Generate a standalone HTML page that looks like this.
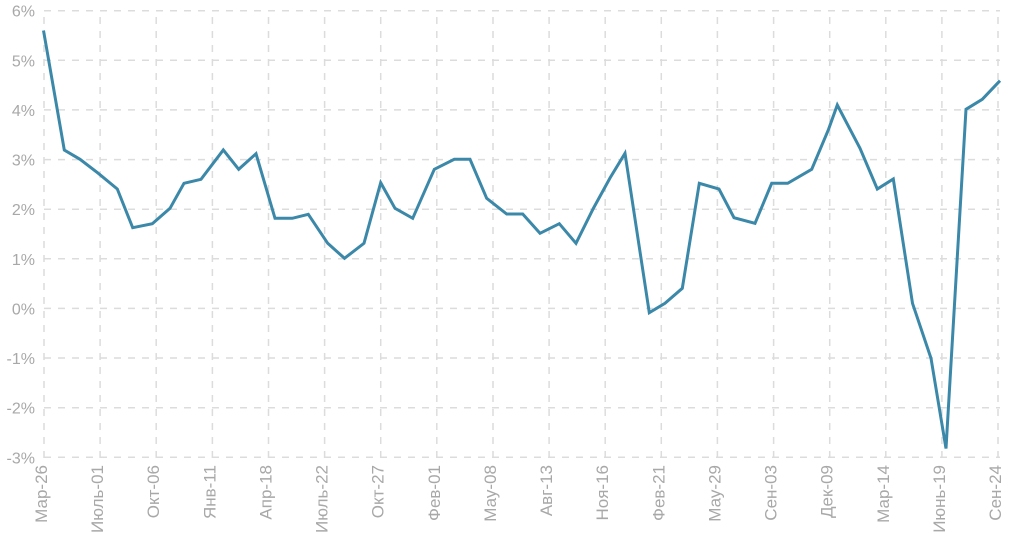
<!DOCTYPE html>
<html>
<head>
<meta charset="utf-8">
<style>
  html, body { margin: 0; padding: 0; background: #ffffff; }
  body { width: 1024px; height: 552px; overflow: hidden; }
  svg { display: block; }
  text { font-family: "Liberation Sans", "DejaVu Sans", sans-serif; fill: #a8a8a8; }
</style>
</head>
<body>
<svg width="1024" height="552" viewBox="0 0 1024 552" xmlns="http://www.w3.org/2000/svg">
  <g stroke="#dcdcdc" stroke-width="1.5" stroke-dasharray="7 7" fill="none">
    <line x1="44" y1="10.7" x2="1000" y2="10.7"/>
    <line x1="44" y1="60.3" x2="1000" y2="60.3"/>
    <line x1="44" y1="109.9" x2="1000" y2="109.9"/>
    <line x1="44" y1="159.6" x2="1000" y2="159.6"/>
    <line x1="44" y1="209.2" x2="1000" y2="209.2"/>
    <line x1="44" y1="258.8" x2="1000" y2="258.8"/>
    <line x1="44" y1="308.4" x2="1000" y2="308.4"/>
    <line x1="44" y1="358.0" x2="1000" y2="358.0"/>
    <line x1="44" y1="407.7" x2="1000" y2="407.7"/>
    <line x1="44" y1="457.3" x2="1000" y2="457.3"/>
  </g>
  <g stroke="#dcdcdc" stroke-width="1.5" stroke-dasharray="7 7" fill="none">
    <line x1="44" y1="458" x2="44" y2="10"/>
    <line x1="100.1" y1="458" x2="100.1" y2="10"/>
    <line x1="156.2" y1="458" x2="156.2" y2="10"/>
    <line x1="212.4" y1="458" x2="212.4" y2="10"/>
    <line x1="268.5" y1="458" x2="268.5" y2="10"/>
    <line x1="324.6" y1="458" x2="324.6" y2="10"/>
    <line x1="380.7" y1="458" x2="380.7" y2="10"/>
    <line x1="436.8" y1="458" x2="436.8" y2="10"/>
    <line x1="493.0" y1="458" x2="493.0" y2="10"/>
    <line x1="549.1" y1="458" x2="549.1" y2="10"/>
    <line x1="605.2" y1="458" x2="605.2" y2="10"/>
    <line x1="661.3" y1="458" x2="661.3" y2="10"/>
    <line x1="717.4" y1="458" x2="717.4" y2="10"/>
    <line x1="773.6" y1="458" x2="773.6" y2="10"/>
    <line x1="829.7" y1="458" x2="829.7" y2="10"/>
    <line x1="885.8" y1="458" x2="885.8" y2="10"/>
    <line x1="941.9" y1="458" x2="941.9" y2="10"/>
    <line x1="998.0" y1="458" x2="998.0" y2="10"/>
  </g>

  <g font-size="16" text-anchor="end">
    <text x="35" y="16.7">6%</text>
    <text x="35" y="66.3">5%</text>
    <text x="35" y="115.9">4%</text>
    <text x="35" y="165.6">3%</text>
    <text x="35" y="215.2">2%</text>
    <text x="35" y="264.8">1%</text>
    <text x="35" y="314.4">0%</text>
    <text x="35" y="364.0">-1%</text>
    <text x="35" y="413.7">-2%</text>
    <text x="35" y="463.3">-3%</text>
  </g>

  <g font-size="17" text-anchor="end">
    <text transform="translate(47,465) rotate(-90)">Мар-26</text>
    <text transform="translate(103.1,465) rotate(-90)">Июль-01</text>
    <text transform="translate(159.2,465) rotate(-90)">Окт-06</text>
    <text transform="translate(215.4,465) rotate(-90)">Янв-11</text>
    <text transform="translate(271.5,465) rotate(-90)">Апр-18</text>
    <text transform="translate(327.6,465) rotate(-90)">Июль-22</text>
    <text transform="translate(383.7,465) rotate(-90)">Окт-27</text>
    <text transform="translate(439.8,465) rotate(-90)">Фев-01</text>
    <text transform="translate(496.0,465) rotate(-90)">Мау-08</text>
    <text transform="translate(552.1,465) rotate(-90)">Авг-13</text>
    <text transform="translate(608.2,465) rotate(-90)">Ноя-16</text>
    <text transform="translate(664.3,465) rotate(-90)">Фев-21</text>
    <text transform="translate(720.4,465) rotate(-90)">Мау-29</text>
    <text transform="translate(776.6,465) rotate(-90)">Сен-03</text>
    <text transform="translate(832.7,465) rotate(-90)">Дек-09</text>
    <text transform="translate(888.8,465) rotate(-90)">Мар-14</text>
    <text transform="translate(944.9,465) rotate(-90)">Июнь-19</text>
    <text transform="translate(1001.0,465) rotate(-90)">Сен-24</text>
  </g>

  <polyline fill="none" stroke="#3b88a9" stroke-width="3" stroke-linejoin="miter" stroke-miterlimit="4"
    points="43.5,30.5 64.3,150 80,159.3 98.3,173.3 117.3,189 132.7,227.7 152.3,223.7 170,208.3 184,183.3 201,179.3 223.3,150 238.7,169.3 256,153.7 275,218.3 292.3,218.3 308.3,214.3 327.7,243.3 344.5,258.3 364,243.3 380.7,182.7 395,208.3 412.7,218.3 434.3,169.3 454.3,159.3 470,159.3 486.7,198.3 506.7,214 522.7,214 540,233.3 559.3,223.7 576,243.3 593.3,208.5 610,178 625,153.3 649.3,312.7 665,303.3 682.3,288.3 699.3,183.3 719,189 734,217.7 755,223.3 771.7,183.3 787.7,183.3 811.7,169.3 828.3,130 837.3,105 860,148.3 877.3,189 893.3,179 912.5,303.3 931,358.3 946,448.5 966,109.3 982.3,99.3 1000,80.7"/>
</svg>
</body>
</html>
